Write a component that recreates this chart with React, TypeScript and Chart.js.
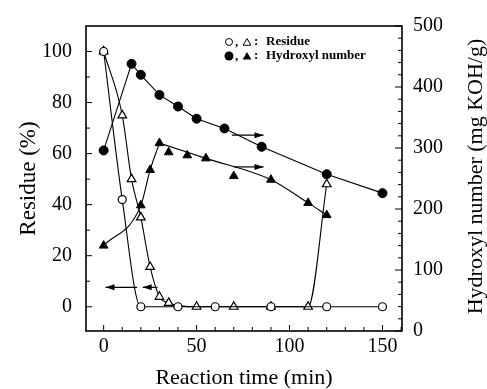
import React, { useEffect, useRef } from "react";
import { Chart, registerables } from "chart.js";

Chart.register(...registerables);

// ---- data ----
const RES_CIRCLE_T = [0, 10, 20, 40, 60, 90, 120, 150];
const RES_CIRCLE_V = [100, 42, 0, 0, 0, 0, 0, 0];

const RES_TRI_T = [0, 10, 15, 20, 25, 30, 35, 50, 70, 90, 110, 120];
const RES_TRI_V = [100, 75, 50, 35, 15.6, 3.9, 1.5, 0, 0, 0, 0, 48];

const HYD_CIRCLE_T = [0, 15, 20, 30, 40, 50, 65, 85, 120, 150];
const HYD_CIRCLE_V = [296, 438, 420, 387, 368, 348, 332, 302, 257, 226];

const HYD_TRI_T = [0, 20, 25, 30, 35, 45, 55, 70, 90, 110, 120];
const HYD_TRI_V = [140, 206, 264, 308, 293, 288, 283, 254, 248, 210, 190];

// hand-drawn trend curve through the filled triangles
const HYD_TRI_RISE_T = [0, 20, 25, 30];
const HYD_TRI_RISE_V = [140, 206, 264, 308];
const HYD_TRI_FALL_T = [30, 55, 90, 110, 120];
const HYD_TRI_FALL_V = [308, 283, 248, 210, 190];

const X_TICKS = [0, 50, 100, 150];
const RES_TICKS = [0, 20, 40, 60, 80, 100];
const HYD_TICKS = [0, 100, 200, 300, 400, 500];

// arrows: [from time, to time, value]
const HYD_ARROWS = [
  [69, 86, 321],
  [70, 86, 269],
];
const RES_ARROWS = [
  [18, 1, 7.6],
  [29, 21, 7.6],
];

const SERIF = "'Liberation Serif', 'Times New Roman', Times, serif";

const pts = (xs: number[], ys: number[]) => xs.map((x, i) => ({ x, y: ys[i] }));

const decorPlugin = {
  id: "decor",
  afterDatasetsDraw(chart: any) {
    const { ctx, chartArea, scales } = chart;
    const { left, right, top, bottom } = chartArea;
    ctx.save();
    ctx.strokeStyle = "#000";
    ctx.fillStyle = "#000";

    // frame
    ctx.lineWidth = 1.6;
    ctx.strokeRect(left, top, right - left, bottom - top);

    // inward ticks
    ctx.lineWidth = 1;
    ctx.beginPath();
    for (let v = 0; v <= 160; v += 10) {
      const x = scales.x.getPixelForValue(v);
      const len = v % 50 === 0 ? 6 : 4;
      ctx.moveTo(x, bottom);
      ctx.lineTo(x, bottom - len);
    }
    for (let v = 0; v <= 100; v += 10) {
      const y = scales.y.getPixelForValue(v);
      const len = v % 20 === 0 ? 6 : 4;
      ctx.moveTo(left, y);
      ctx.lineTo(left + len, y);
    }
    for (let v = 0; v <= 500; v += 20) {
      const y = scales.y2.getPixelForValue(v);
      const len = v % 100 === 0 ? 7 : 4;
      ctx.moveTo(right, y);
      ctx.lineTo(right - len, y);
    }
    ctx.stroke();

    // arrows
    const arrow = (x1: number, x2: number, y: number) => {
      ctx.lineWidth = 1.2;
      ctx.beginPath();
      ctx.moveTo(x1, y);
      ctx.lineTo(x2, y);
      ctx.stroke();
      const dir = Math.sign(x2 - x1);
      ctx.beginPath();
      ctx.moveTo(x2, y);
      ctx.lineTo(x2 - dir * 9, y - 3);
      ctx.lineTo(x2 - dir * 9, y + 3);
      ctx.closePath();
      ctx.fill();
    };
    HYD_ARROWS.forEach(([a, b, v]) =>
      arrow(scales.x.getPixelForValue(a), scales.x.getPixelForValue(b), scales.y2.getPixelForValue(v))
    );
    RES_ARROWS.forEach(([a, b, v]) =>
      arrow(scales.x.getPixelForValue(a), scales.x.getPixelForValue(b), scales.y.getPixelForValue(v))
    );

    // legend
    const lx = left + 143;
    const r1 = top + 16;
    const r2 = top + 30;
    const tri = (cx: number, cy: number, r: number, fill: boolean) => {
      ctx.beginPath();
      ctx.moveTo(cx, cy - r);
      ctx.lineTo(cx + r * 0.866, cy + r * 0.5);
      ctx.lineTo(cx - r * 0.866, cy + r * 0.5);
      ctx.closePath();
      if (fill) ctx.fill();
      else ctx.stroke();
    };
    ctx.lineWidth = 1;
    ctx.beginPath();
    ctx.arc(lx, r1, 3.5, 0, Math.PI * 2);
    ctx.stroke();
    tri(lx + 18, r1 + 1, 4.5, false);
    ctx.beginPath();
    ctx.arc(lx, r2, 4.5, 0, Math.PI * 2);
    ctx.fill();
    tri(lx + 18, r2 + 1, 5, true);
    ctx.font = `bold 13px ${SERIF}`;
    ctx.textBaseline = "middle";
    ctx.textAlign = "left";
    ctx.fillText(",", lx + 6, r1 + 1);
    ctx.fillText(":", lx + 25, r1);
    ctx.fillText(",", lx + 6, r2 + 1);
    ctx.fillText(":", lx + 25, r2);
    ctx.fillText("Residue", lx + 37, r1);
    ctx.fillText("Hydroxyl number", lx + 37, r2);

    // right axis title (reads bottom to top)
    ctx.save();
    ctx.translate(right + 74, (top + bottom) / 2 - 2);
    ctx.rotate(-Math.PI / 2);
    ctx.font = `22px ${SERIF}`;
    ctx.textAlign = "center";
    ctx.textBaseline = "middle";
    ctx.fillText("Hydroxyl number (mg KOH/g)", 0, 0);
    ctx.restore();

    ctx.restore();
  },
};

export default function App() {
  const ref = useRef<HTMLCanvasElement | null>(null);

  useEffect(() => {
    if (!ref.current) return;
    const tickFont = { family: SERIF, size: 20 };
    const chart = new Chart(ref.current, {
      type: "line",
      data: {
        datasets: [
          {
            label: "Residue (circles)",
            data: pts(RES_CIRCLE_T, RES_CIRCLE_V),
            yAxisID: "y",
            borderColor: "#000",
            borderWidth: 1.1,
            backgroundColor: "#fff",
            pointStyle: "circle",
            pointRadius: 4,
            pointBorderWidth: 1.2,
            pointBorderColor: "#000",
            pointBackgroundColor: "#fff",
            cubicInterpolationMode: "monotone",
          },
          {
            label: "Residue (triangles)",
            data: pts(RES_TRI_T, RES_TRI_V),
            yAxisID: "y",
            borderColor: "#000",
            borderWidth: 1.1,
            pointStyle: "triangle",
            pointRadius: 5,
            pointBorderWidth: 1.2,
            pointBorderColor: "#000",
            pointBackgroundColor: "#fff",
            cubicInterpolationMode: "monotone",
          },
          {
            label: "Hydroxyl number (circles)",
            data: pts(HYD_CIRCLE_T, HYD_CIRCLE_V),
            yAxisID: "y2",
            borderColor: "#000",
            borderWidth: 1.1,
            pointStyle: "circle",
            pointRadius: 4.5,
            pointBorderWidth: 1,
            pointBorderColor: "#000",
            pointBackgroundColor: "#000",
            tension: 0,
          },
          {
            label: "Hydroxyl number (triangles)",
            data: pts(HYD_TRI_T, HYD_TRI_V),
            yAxisID: "y2",
            showLine: false,
            pointStyle: "triangle",
            pointRadius: 5,
            pointBorderWidth: 1,
            pointBorderColor: "#000",
            pointBackgroundColor: "#000",
          },
          {
            label: "trend rise",
            data: pts(HYD_TRI_RISE_T, HYD_TRI_RISE_V),
            yAxisID: "y2",
            borderColor: "#000",
            borderWidth: 1.1,
            pointRadius: 0,
            cubicInterpolationMode: "monotone",
          },
          {
            label: "trend fall",
            data: pts(HYD_TRI_FALL_T, HYD_TRI_FALL_V),
            yAxisID: "y2",
            borderColor: "#000",
            borderWidth: 1.1,
            pointRadius: 0,
            cubicInterpolationMode: "monotone",
          },
        ],
      },
      options: {
        animation: false,
        responsive: false,
        events: [],
        layout: { padding: { top: 17, left: 0, right: 0, bottom: 0 } },
        plugins: {
          legend: { display: false },
          tooltip: { enabled: false },
        },
        scales: {
          x: {
            type: "linear",
            min: -9.5,
            max: 160.5,
            grid: { display: false, drawTicks: false },
            border: { display: false },
            afterBuildTicks: (s: any) => {
              s.ticks = X_TICKS.map((v) => ({ value: v }));
            },
            ticks: { font: tickFont, color: "#000", padding: 4, maxRotation: 0, autoSkip: false },
            title: {
              display: true,
              text: "Reaction time (min)",
              color: "#000",
              font: { family: SERIF, size: 22, lineHeight: 1 },
              padding: { top: 0, bottom: 0 },
            },
            afterFit: (s: any) => {
              s.height = 58;
            },
          },
          y: {
            type: "linear",
            position: "left",
            min: -9.5,
            max: 110,
            grid: { display: false, drawTicks: false },
            border: { display: false },
            afterBuildTicks: (s: any) => {
              s.ticks = RES_TICKS.map((v) => ({ value: v }));
            },
            ticks: { font: tickFont, color: "#000", padding: 14, autoSkip: false },
            title: {
              display: true,
              text: "Residue (%)",
              color: "#000",
              font: { family: SERIF, size: 23, lineHeight: 1 },
              padding: { top: 17, bottom: 0 },
            },
            afterFit: (s: any) => {
              s.width = 86;
            },
          },
          y2: {
            type: "linear",
            position: "right",
            min: 0,
            max: 500,
            grid: { display: false, drawTicks: false },
            border: { display: false },
            afterBuildTicks: (s: any) => {
              s.ticks = HYD_TICKS.map((v) => ({ value: v }));
            },
            ticks: { font: tickFont, color: "#000", padding: 11, autoSkip: false },
            afterFit: (s: any) => {
              s.width = 85;
            },
          },
        },
      },
      plugins: [decorPlugin],
    } as any);
    return () => chart.destroy();
  }, []);

  return (
    <div style={{ position: "fixed", left: 0, top: 0, width: 487, height: 389, background: "#fff" }}>
      <canvas ref={ref} width={487} height={389} style={{ width: 487, height: 389 }} />
    </div>
  );
}
